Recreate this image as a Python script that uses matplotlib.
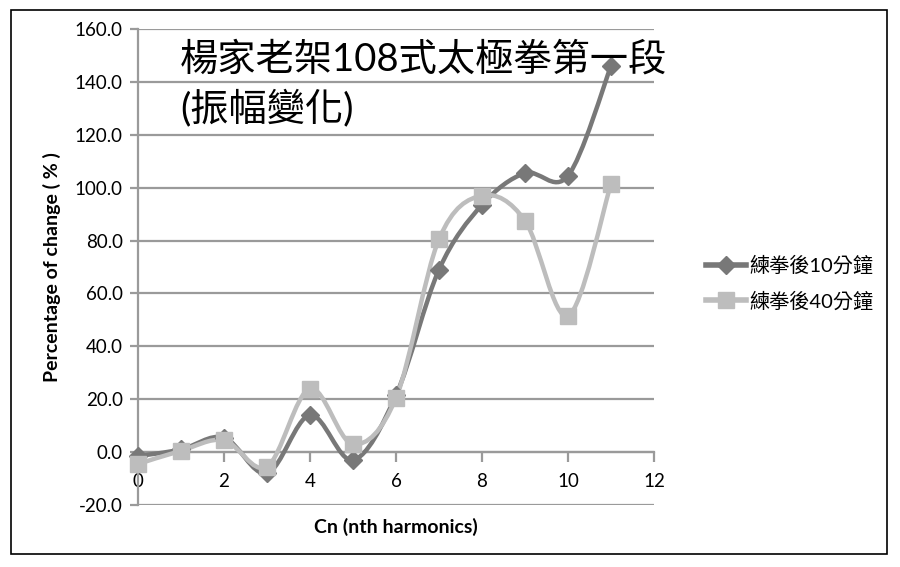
import matplotlib
matplotlib.use("Agg")
import matplotlib.pyplot as plt
from matplotlib.path import Path
from matplotlib.patches import PathPatch, Rectangle
from matplotlib.lines import Line2D

plt.rcParams["font.family"] = ["Lato", "Noto Sans CJK TC", "DejaVu Sans"]

harmonics = [0, 1, 2, 3, 4, 5, 6, 7, 8, 9, 10, 11]
after_10min = [-1.5, 1.0, 5.5, -8.0, 14.0, -3.0, 21.5, 69.0, 93.5, 105.5, 104.5, 146.0]
after_40min = [-4.5, 0.5, 4.5, -5.5, 24.0, 3.0, 20.5, 80.5, 97.0, 87.5, 51.5, 101.5]

series_names = ["練拳後10分鐘", "練拳後40分鐘"]
title_lines = ["楊家老架108式太極拳第一段", "(振幅變化)"]
y_ticks = [-20, 0, 20, 40, 60, 80, 100, 120, 140, 160]
x_ticks = [0, 2, 4, 6, 8, 10, 12]

DARK = "#787878"
LIGHT = "#bdbdbd"
GRID = "#9a9a9a"


def smooth_path(xs, ys):
    # cubic bezier through the points, excel-like smoothing
    pts = list(zip(xs, ys))
    n = len(pts)
    verts = [pts[0]]
    codes = [Path.MOVETO]
    for i in range(n - 1):
        p0 = pts[i - 1] if i > 0 else pts[i]
        p1 = pts[i]
        p2 = pts[i + 1]
        p3 = pts[i + 2] if i + 2 < n else pts[i + 1]
        c1 = (p1[0] + (p2[0] - p0[0]) / 6, p1[1] + (p2[1] - p0[1]) / 6)
        c2 = (p2[0] - (p3[0] - p1[0]) / 6, p2[1] - (p3[1] - p1[1]) / 6)
        verts += [c1, c2, p2]
        codes += [Path.CURVE4] * 3
    return Path(verts, codes)


fig = plt.figure(figsize=(9, 5.67), dpi=100)
ax = fig.add_axes([0.1533, 0.1093, 0.5734, 0.8396])

fig.patches.append(Rectangle((11 / 900, 13 / 567), 876 / 900, 544 / 567,
                             transform=fig.transFigure, fill=False,
                             edgecolor="black", linewidth=1.2))

# spine position first, it resets the ticks
for side in ["top", "right"]:
    ax.spines[side].set_visible(False)
ax.spines["bottom"].set_position(("data", 0))
ax.spines["left"].set_color(GRID)
ax.spines["left"].set_linewidth(1.6)
ax.spines["bottom"].set_color(GRID)
ax.spines["bottom"].set_linewidth(1.6)

ax.set_xlim(0, 12)
ax.set_ylim(-20, 160)
ax.set_yticks(y_ticks)
ax.set_yticklabels([f"{v:.1f}" for v in y_ticks])
ax.set_xticks(x_ticks)
ax.set_xticklabels([str(v) for v in x_ticks])
for v in y_ticks:
    ax.axhline(v, color=GRID, linewidth=1.6, zorder=1)

ax.tick_params(axis="y", length=6, width=1.6, color=GRID, pad=5, labelsize=13.5)
ax.tick_params(axis="x", length=7, width=1.6, color=GRID, pad=8, labelsize=13.5)

for ys, color, marker, ms in [(after_10min, DARK, "D", 9), (after_40min, LIGHT, "s", 11)]:
    ax.add_patch(PathPatch(smooth_path(harmonics, ys), facecolor="none",
                           edgecolor=color, linewidth=3.2, zorder=3))
    ax.plot(harmonics, ys, linestyle="none", marker=marker, markersize=ms,
            color=color, zorder=4, clip_on=False)

ax.set_ylabel("Percentage of change ( % )", fontsize=14, fontweight="bold", labelpad=10)
ax.set_xlabel("Cn (nth harmonics)", fontsize=14, fontweight="bold", labelpad=20)

fig.text(180 / 900, 1 - 60 / 567, title_lines[0], fontsize=27.5, va="center", ha="left")
fig.text(180 / 900, 1 - 108 / 567, title_lines[1], fontsize=27.5, va="center", ha="left")

handles = [
    Line2D([], [], color=DARK, linewidth=4, marker="D", markersize=9),
    Line2D([], [], color=LIGHT, linewidth=4, marker="s", markersize=12),
]
fig.legend(handles, series_names, loc="center left",
           bbox_to_anchor=(688 / 900, 1 - 283 / 567), frameon=False,
           fontsize=14.5, handlelength=2.0, handletextpad=0.15, labelspacing=0.8)

fig.savefig("out.png", dpi=100)
